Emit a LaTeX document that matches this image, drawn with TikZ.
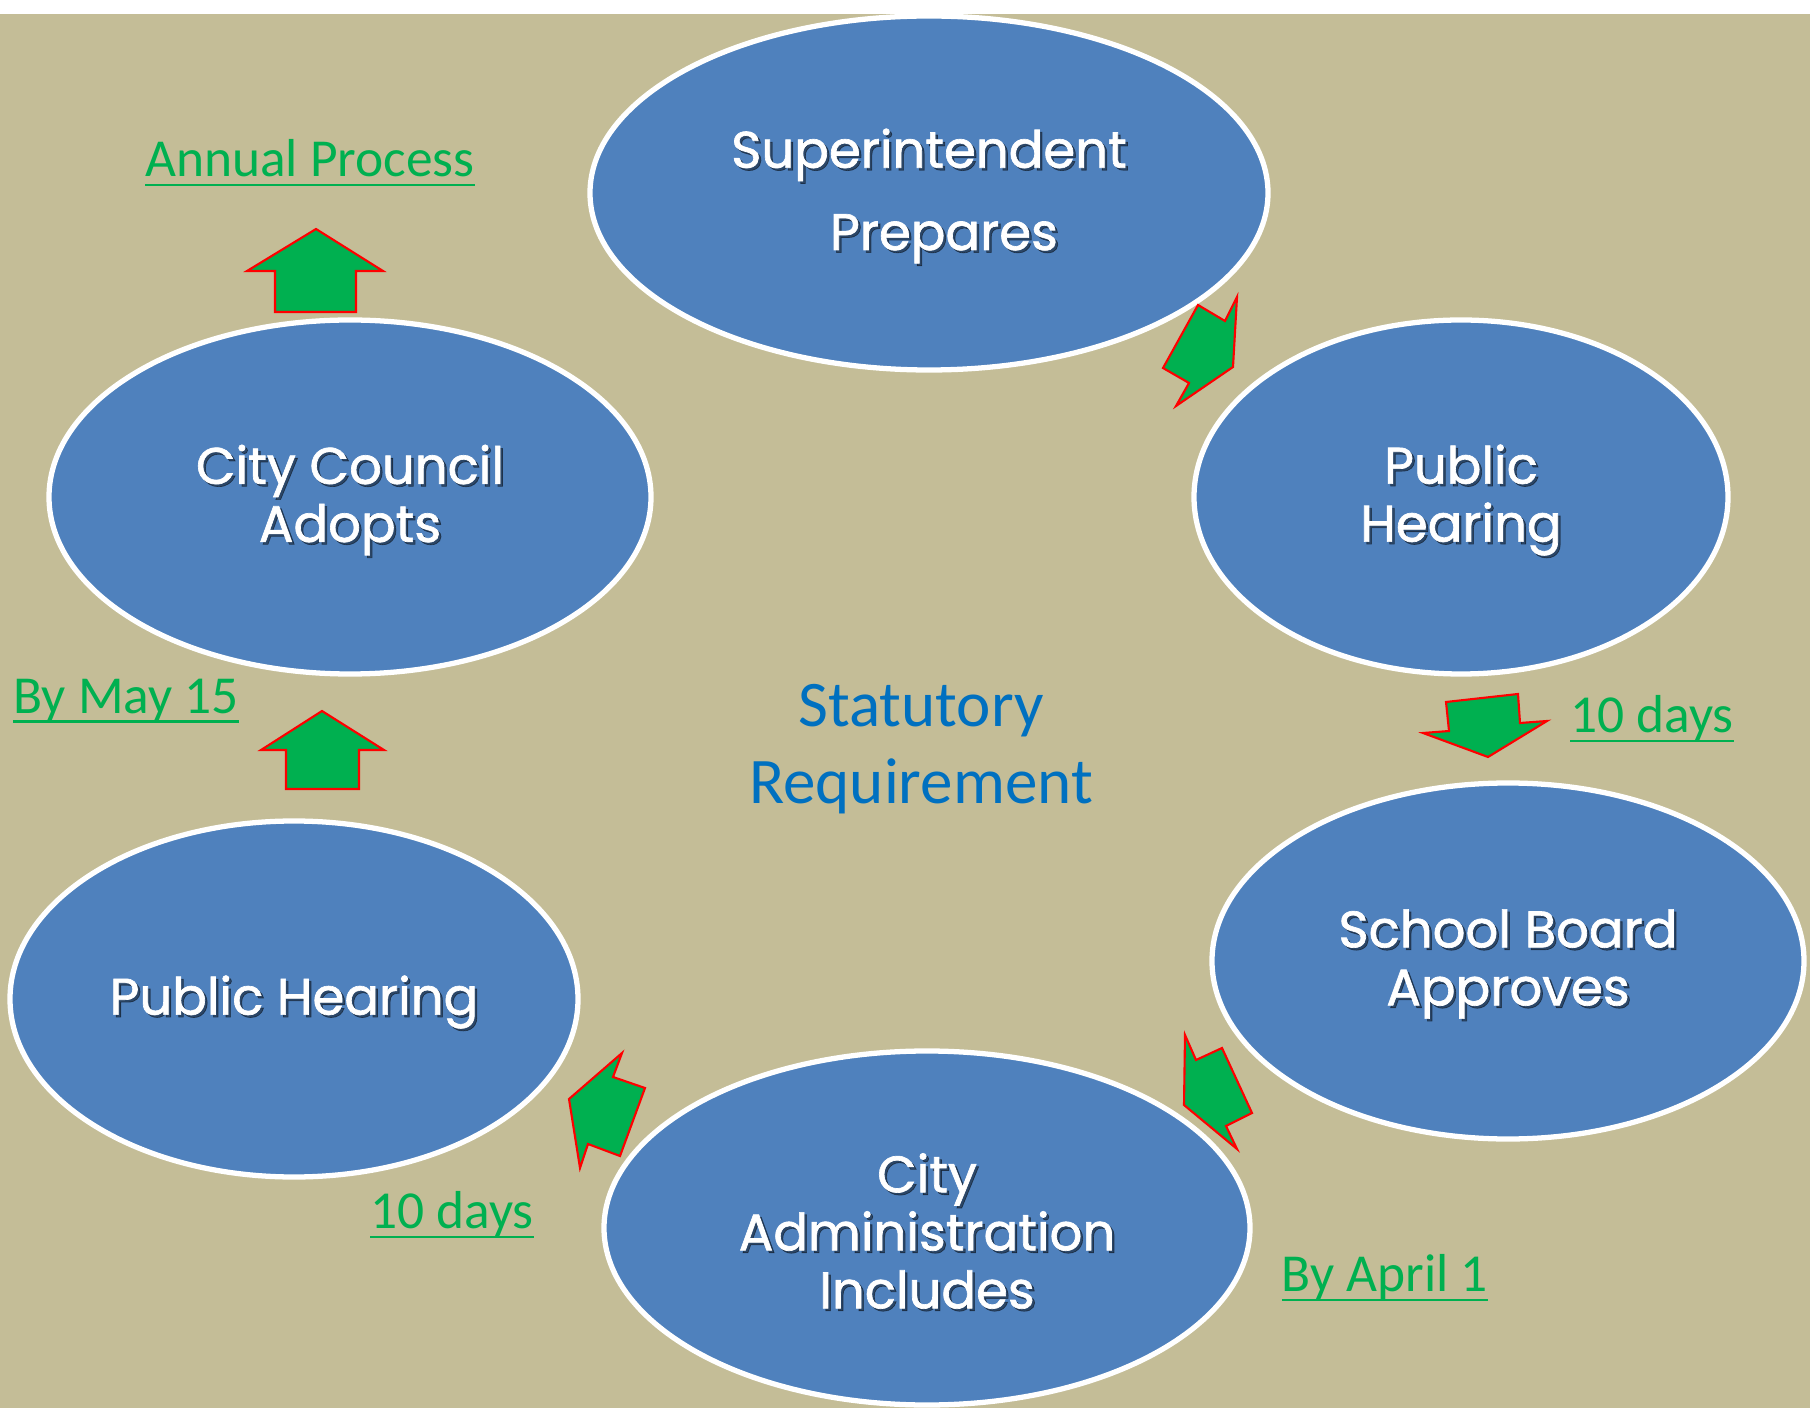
\documentclass[tikz,border=0pt]{standalone}
\usepackage{fontspec}
\usetikzlibrary{shapes.geometric}
\newfontfamily\blobfont{Poppins}[FakeBold=1.3]
\newfontfamily\notefont{Carlito}
\definecolor{paper}{HTML}{C4BD97}
\definecolor{blobblue}{HTML}{4F81BD}
\definecolor{notegreen}{HTML}{00B050}
\definecolor{statblue}{HTML}{0070C0}
\newcommand\uln[1]{\setbox0\hbox{#1}\rlap{\vrule width\wd0 height -2.0pt depth 2.8pt}\box0}
\def\blobtext(#1)#2{\node[blobshadow] (#1-s) at ([shift={(0.025,-0.055)}]#1.center) {#2};
  \node[blobtxt] (#1-t) at ([shift={(0,-0.03)}]#1.center) {#2};}
\tikzset{
  blob/.style={ellipse, draw=white, line width=1.5pt, fill=blobblue, inner sep=0pt},
  blobtxt/.style={text=white, align=center, font=\blobfont\fontsize{14.6}{16.5}\selectfont},
  blobshadow/.style={blobtxt, text=black, text opacity=0.45},
  note/.style={text=notegreen, font=\notefont\fontsize{15.2}{18}\selectfont},
  blockarrow/.style={fill=notegreen, draw=red, line width=0.6pt, line join=miter}
}
\begin{document}
\begin{tikzpicture}
		%%%%% BACKGROUND %%%%%
		\useasboundingbox (0, 0) rectangle (18.1, 14.08);
		\fill[white] (0, 0) rectangle (18.1, 14.08);
		\fill[paper] (0, 0) rectangle (18.1, 13.94);
		
		%%%%% ELLIPSES %%%%%
		\node[blob, minimum width=6.78cm, minimum height=3.54cm] (sup) at (9.29, 12.15) {};
		\node[blob, minimum width=5.34cm, minimum height=3.54cm] (hear1) at (14.61, 9.11) {};
		\node[blob, minimum width=5.92cm, minimum height=3.56cm] (board) at (15.08, 4.47) {};
		\node[blob, minimum width=6.46cm, minimum height=3.54cm] (admin) at (9.27, 1.80) {};
		\node[blob, minimum width=5.68cm, minimum height=3.56cm] (hear2) at (2.94, 4.09) {};
		\node[blob, minimum width=6.02cm, minimum height=3.54cm] (council) at (3.50, 9.11) {};
		
		\blobtext(sup){Superintendent\\[6.9pt]\hspace*{0.3cm}Prepares}
		\blobtext(hear1){Public\\Hearing}
		\blobtext(board){School Board\\Approves}
		\blobtext(admin){City\\Administration\\Includes}
		\blobtext(hear2){Public Hearing}
		\blobtext(council){City Council\\Adopts}
		
		%%%%% ARROWS %%%%%
		\draw[blockarrow] (3.16, 11.79) -- (3.83, 11.37) -- (3.56, 11.37) -- (3.56, 10.96) -- (2.75, 10.96) -- (2.75, 11.37) -- (2.47, 11.37) -- cycle;
		\draw[blockarrow] (3.22, 6.97) -- (3.84, 6.58) -- (3.59, 6.58) -- (3.59, 6.19) -- (2.86, 6.19) -- (2.86, 6.58) -- (2.61, 6.58) -- cycle;
		\draw[blockarrow] (12.33, 10.41) -- (12.37, 11.11) -- (12.25, 10.87) -- (11.98, 11.03) -- (11.63, 10.40) -- (11.89, 10.25) -- (11.76, 10.02) -- cycle;
		\draw[blockarrow] (14.88, 6.51) -- (15.47, 6.87) -- (15.20, 6.85) -- (15.18, 7.14) -- (14.46, 7.06) -- (14.49, 6.77) -- (14.23, 6.75) -- cycle;
		\draw[blockarrow] (11.84, 3.03) -- (11.85, 3.73) -- (11.96, 3.48) -- (12.22, 3.60) -- (12.52, 2.95) -- (12.26, 2.82) -- (12.37, 2.59) -- cycle;
		\draw[blockarrow] (5.69, 3.09) -- (6.22, 3.55) -- (6.13, 3.31) -- (6.45, 3.20) -- (6.20, 2.52) -- (5.88, 2.64) -- (5.80, 2.40) -- cycle;
		
		%%%%% LABELS %%%%%
		\node[note] (annual) at (3.10, 12.45) {\uln{Annual Process}};
		\node[note] (may) at (1.26, 7.07) {\uln{By May 15}};
		\node[note] (days1) at (16.52, 6.89) {\uln{10 days}};
		\node[note] (days2) at (4.52, 1.93) {\uln{10 days}};
		\node[note] (april) at (13.85, 1.30) {\uln{By April 1}};
		\node[text=statblue, align=center, font=\notefont\fontsize{18.5}{21.8}\selectfont] (stat) at (9.21, 6.59) {Statutory\\Requirement};
		%%%%% END %%%%%
	\end{tikzpicture}
\end{document}
